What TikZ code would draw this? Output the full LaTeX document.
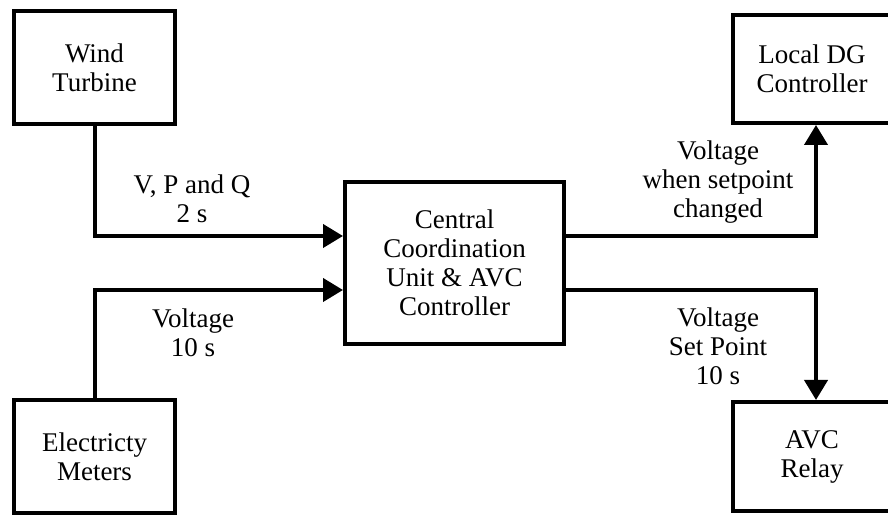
\documentclass[tikz,border=0pt]{standalone}
\usepackage{fontspec}
\setmainfont{Liberation Serif}
\usetikzlibrary{arrows.meta}
\tikzset{every path/.style={black,line width=4pt}, every node/.style={font=\fontsize{27}{29}\selectfont, align=center, inner sep=0pt},
  box/.style={draw, line width=4pt, minimum width=161pt, minimum height=113pt},
  flow/.style={-{Triangle[length=20pt,width=23pt]}}}

\begin{document}
\begin{tikzpicture}[x=1pt,y=1pt]
  \useasboundingbox (0,0) rectangle (888,516);
   \node[box] (wt) at ( 94.5,448.5) {Wind\\Turbine};
   \node[box] (em) at ( 94.5, 59.5) {Electricty\\Meters};
   \node[box, minimum width=219pt, minimum height=162pt] (cc) at (454.5,253) {Central\\Coordination\\Unit \& AVC\\Controller};
   \node[box, minimum width=158pt, minimum height=108pt] (dg) at (812,447) {Local DG\\Controller};
   \node[box, minimum width=158pt, minimum height=109pt] (avc) at (812, 59.5) {AVC\\Relay};
   \draw[flow] (wt.south) |- ([yshift=27pt]cc.west);
   \draw[flow] (em.north) |- ([yshift=-27pt]cc.west);
   \draw[flow] ([yshift=27pt]cc.east) -| ([xshift=4pt]dg.south);
   \draw[flow] ([yshift=-27pt]cc.east) -| ([xshift=4pt]avc.north);
   \node (l1) at (192,317) {V, P and Q\\2 s};
   \node (l2) at (193,183) {Voltage\\10 s};
   \node (l3) at (718,334) {Voltage\\when setpoint\\changed};
   \node (l4) at (718,170) {Voltage\\Set Point\\10 s};
\end{tikzpicture}
\end{document}
